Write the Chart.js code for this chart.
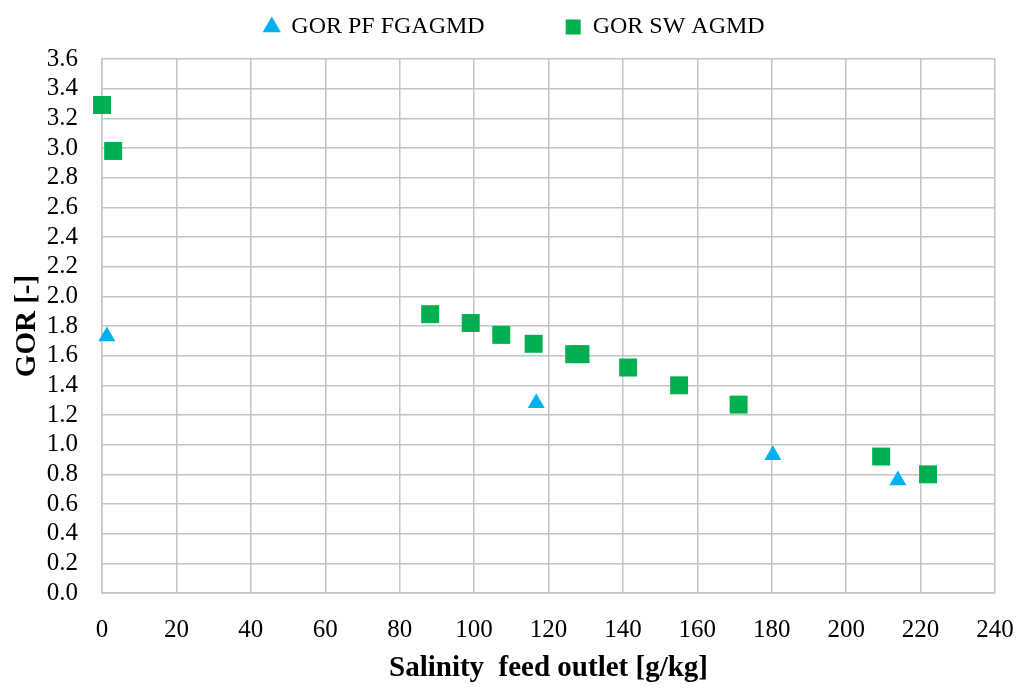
<!DOCTYPE html>
<html>
<head>
<meta charset="utf-8">
<script src="https://cdn.jsdelivr.net/npm/chart.js@4.4.1/dist/chart.umd.min.js"></script>
<style>
  html, body { margin: 0; padding: 0; background: #fff; }
  #wrap { width: 1019px; height: 690px; }
</style>
</head>
<body>
<div id="wrap"><canvas id="chart" width="1019" height="690"></canvas></div>
<script>
// GOR vs salinity at feed outlet
const pfSalinity = [1.3, 116.7, 180.3, 213.9];
const pfGor = [1.73, 1.28, 0.93, 0.76];

const swSalinity = [0, 3.0, 88.2, 99.1, 107.3, 116.0, 126.9, 128.6, 141.4, 155.1, 171.1, 209.4, 222.0];
const swGor = [3.29, 2.98, 1.88, 1.82, 1.74, 1.68, 1.61, 1.61, 1.52, 1.40, 1.27, 0.92, 0.80];

const xTicks = [0, 20, 40, 60, 80, 100, 120, 140, 160, 180, 200, 220, 240];
const yTicks = [0, 0.2, 0.4, 0.6, 0.8, 1.0, 1.2, 1.4, 1.6, 1.8, 2.0, 2.2, 2.4, 2.6, 2.8, 3.0, 3.2, 3.4, 3.6];

const FONT = "'Liberation Serif', 'DejaVu Serif', serif";
const GRID = "#c4c4c4";

function toPoints(xs, ys) {
  return xs.map((x, i) => ({ x, y: ys[i] }));
}

// leave some extra room between the legend and the plot
const legendGap = {
  id: "legendGap",
  beforeLayout(chart) {
    const lg = chart.legend;
    if (!lg || lg._gapWrapped) return;
    const fit = lg.fit.bind(lg);
    lg.fit = function () {
      fit();
      this.height += 10;
    };
    lg._gapWrapped = true;
  },
};

new Chart(document.getElementById("chart").getContext("2d"), {
  type: "scatter",
  data: {
    datasets: [
      {
        label: "GOR PF FGAGMD",
        data: toPoints(pfSalinity, pfGor),
        pointStyle: "triangle",
        pointRadius: 9.8,
        backgroundColor: "#00b0f0",
        borderColor: "#00b0f0",
        borderWidth: 0,
        clip: false,
      },
      {
        label: "GOR SW AGMD",
        data: toPoints(swSalinity, swGor),
        pointStyle: "rect",
        pointRadius: 12.7,
        backgroundColor: "#00b050",
        borderColor: "#00b050",
        borderWidth: 0,
        clip: false,
      },
    ],
  },
  plugins: [legendGap],
  options: {
    responsive: false,
    animation: false,
    layout: { padding: { top: 0, right: 0, bottom: 4, left: 10 } },
    plugins: {
      tooltip: { enabled: false },
      legend: {
        position: "top",
        labels: {
          usePointStyle: true,
          boxWidth: 15,
          boxHeight: 15,
          padding: 15,
          color: "#000",
          font: { family: FONT, size: 24 },
          generateLabels: (chart) => {
            const items = Chart.defaults.plugins.legend.labels.generateLabels(chart);
            // wider gap between the two entries
            items[0].text = items[0].text + "           ";
            return items;
          },
        },
      },
    },
    scales: {
      x: {
        type: "linear",
        min: 0,
        max: 240,
        afterBuildTicks: (scale) => { scale.ticks = xTicks.map((v) => ({ value: v })); },
        afterFit: (scale) => {
          scale.height = 93;
          scale.paddingRight = 24;
        },
        grid: { color: GRID, lineWidth: 1.5, drawTicks: false },
        border: { color: GRID, width: 1.5 },
        ticks: {
          color: "#000",
          padding: 22,
          autoSkip: false,
          maxRotation: 0,
          font: { family: FONT, size: 25 },
        },
        title: {
          display: true,
          text: "Salinity  feed outlet [g/kg]",
          color: "#000",
          padding: { top: 12, bottom: 0 },
          font: { family: FONT, size: 29, weight: "bold" },
        },
      },
      y: {
        type: "linear",
        min: 0,
        max: 3.6,
        afterBuildTicks: (scale) => { scale.ticks = yTicks.map((v) => ({ value: v })); },
        afterFit: (scale) => { scale.width = 92; },
        grid: { color: GRID, lineWidth: 1.5, drawTicks: false },
        border: { color: GRID, width: 1.5 },
        ticks: {
          color: "#000",
          padding: 24,
          autoSkip: false,
          font: { family: FONT, size: 25 },
          callback: (v) => Number(v).toFixed(1),
        },
        title: {
          display: true,
          text: "GOR [-]",
          color: "#000",
          padding: { top: 0, bottom: 0 },
          font: { family: FONT, size: 29, weight: "bold" },
        },
      },
    },
  },
});
</script>
</body>
</html>
